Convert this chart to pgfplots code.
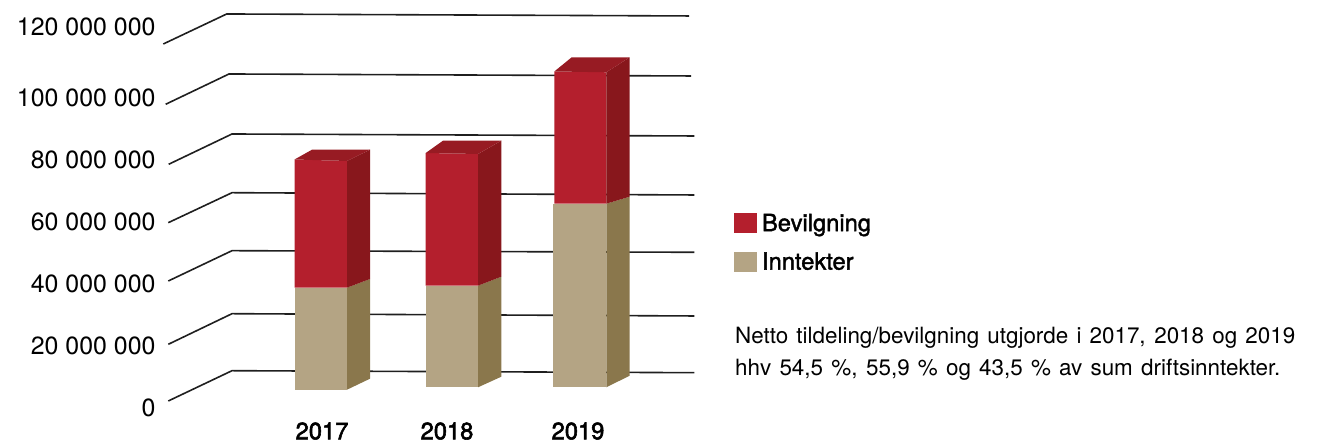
\documentclass[border=0pt]{standalone}
\usepackage{pgfplots}
\usepackage{fontspec}
\pgfplotsset{compat=1.18}
\setmainfont{TeX Gyre Heros}
\newfontfamily\medfont[FakeBold=2.4]{TeX Gyre Heros}
\newfontfamily\legfont[FakeBold=1.6]{TeX Gyre Heros}
\definecolor{redF}{HTML}{B41F2D}
\definecolor{redS}{HTML}{88171C}
\definecolor{redT}{HTML}{971B23}
\definecolor{tanF}{HTML}{B4A484}
\definecolor{tanS}{HTML}{8A774C}
\begin{document}
\begin{tikzpicture}[x=1bp,y=1bp]
\useasboundingbox (0,0) rectangle (1326,447);
% main axis: x in picture columns, y in million kroner on the front plane of the bars
\begin{axis}[
  at={(0bp,0bp)},anchor=south west,
  scale only axis,width=1326bp,height=447bp,
  xmin=0,xmax=1326,ymin=-20.067,ymax=130.18,
  axis line style={draw=none},xtick=\empty,ytick=\empty,clip=false,
  legend image code/.code={\fill[#1] (0bp,-10bp) rectangle (23bp,10bp);},
  legend style={at={(axis cs:734,58.5)},anchor=north west,draw=none,fill=none,
    inner sep=0pt,outer sep=0pt,row sep=18.5bp,
    font=\fontsize{23.8}{24}\legfont,
    nodes={inner sep=0pt,outer sep=0pt,anchor=west},
    /tikz/every odd column/.style={column sep=5bp}},
]
% gridlines: floor/wall corner lines
\pgfplotsset{grid line/.style={black!88,line width=1.6bp,forget plot}}
\addplot[grid line] coordinates {(163.3,115.39) (226.7,125.48) (689,124.81)};
\addplot[grid line] coordinates {(165.7,95.13) (229,105.31) (691,104.64)};
\addplot[grid line] coordinates {(168.7,74.96) (232,85.14) (694.3,84.47)};
\addplot[grid line] coordinates {(168.3,55.33) (232,65.41) (694.3,64.64)};
\addplot[grid line] coordinates {(168.3,35.73) (232,45.92) (694.3,45.38)};
\addplot[grid line] coordinates {(168.3,14.45) (232,24.74) (694.3,23.97)};
\addplot[grid line] coordinates {(168.3,-4.60) (232,5.58) (694.3,4.91)};
% 2017
\addplot[fill=tanF,draw=none,forget plot] coordinates {(294.5,-0.81) (347,-0.81) (347,33.48) (294.5,33.48)} -- cycle;
\addplot[fill=tanS,draw=none,forget plot] coordinates {(347,-0.81) (370,2.89) (370,36.40) (347,33.48)} -- cycle;
\addplot[fill=redF,draw=none,forget plot] coordinates {(294.5,33.48) (347,33.48) (347,76.07) (294.5,76.57)} -- cycle;
\addplot[fill=redS,draw=none,forget plot] coordinates {(347,33.48) (370,36.40) (370,79.86) (347,76.07)} -- cycle;
\addplot[fill=redT,draw=none,forget plot] coordinates {(294.5,76.57) (347,76.07) (370,79.86) (312,79.86)} -- cycle;
% 2018
\addplot[fill=tanF,draw=none,forget plot] coordinates {(425.7,0) (478,0) (478,34.15) (425.7,34.15)} -- cycle;
\addplot[fill=tanS,draw=none,forget plot] coordinates {(478,0) (501.3,3.56) (501.3,37.18) (478,34.15)} -- cycle;
\addplot[fill=redF,draw=none,forget plot] coordinates {(425.7,34.15) (478,34.15) (478,78.42) (425.7,78.75)} -- cycle;
\addplot[fill=redS,draw=none,forget plot] coordinates {(478,34.15) (501.3,37.18) (501.3,82.89) (478,78.42)} -- cycle;
\addplot[fill=redT,draw=none,forget plot] coordinates {(425.7,78.75) (478,78.42) (501.3,82.89) (443,82.89)} -- cycle;
% 2019
\addplot[fill=tanF,draw=none,forget plot] coordinates {(553.3,0) (606.3,0) (606.3,61.71) (553.3,61.71)} -- cycle;
\addplot[fill=tanS,draw=none,forget plot] coordinates {(606.3,0) (629.7,3.90) (629.7,64.07) (606.3,61.71)} -- cycle;
\addplot[fill=redF,draw=none,forget plot] coordinates {(554.3,61.71) (606.3,61.71) (606.3,105.88) (554.3,106.15)} -- cycle;
\addplot[fill=redS,draw=none,forget plot] coordinates {(606.3,61.71) (629.7,64.07) (629.7,110.92) (606.3,105.88)} -- cycle;
\addplot[fill=redT,draw=none,forget plot] coordinates {(554.3,106.15) (606.3,105.88) (629.7,110.92) (571.7,110.92)} -- cycle;
% legend
\addlegendimage{fill=redF,draw=none}
\addlegendentry{Bevilgning}
\addlegendimage{fill=tanF,draw=none}
\addlegendentry{Inntekter}
% note
\node[anchor=base west,inner sep=0pt,font=\fontsize{22.5}{24}\selectfont] at (axis cs:735,14.8)
  {\makebox[560bp][s]{Netto tildeling/bevilgning utgjorde i 2017, 2018 og 2019}};
\node[anchor=base west,inner sep=0pt,font=\fontsize{22.5}{24}\selectfont] at (axis cs:735,3.9)
  {\makebox[545bp][s]{hhv 54,5 \%, 55,9 \% og 43,5 \% av sum driftsinntekter.}};
\end{axis}
% axis carrying the value labels and the year labels
\begin{axis}[
  at={(162bp,39bp)},anchor=south west,
  scale only axis,width=538bp,height=372bp,
  xmin=162,xmax=700,ymin=0,ymax=120000000,
  axis line style={draw=none},tick style={draw=none},
  xtick={322,447,578},xticklabels={2017,2018,2019},
  x tick label style={font=\fontsize{23.8}{26}\medfont,yshift=-11bp},
  ytick={0,20000000,40000000,60000000,80000000,100000000},
  extra y ticks={120000000},
  extra y tick style={y tick label style={yshift=9bp}},
  scaled y ticks=false,
  /pgf/number format/fixed,
  /pgf/number format/precision=0,
  /pgf/number format/1000 sep={\ },
  /pgf/number format/assume math mode=true,
  y tick label style={font=\fontsize{25}{26}\selectfont,anchor=east,xshift=-3bp},
]
\end{axis}
\end{tikzpicture}
\end{document}
